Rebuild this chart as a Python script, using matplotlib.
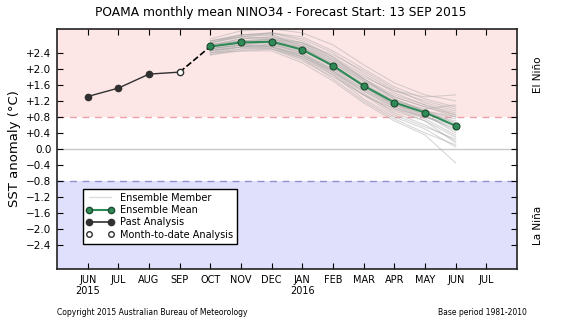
import numpy as np
import matplotlib.pyplot as plt
from matplotlib.lines import Line2D

# months on x axis: index 0 = JUN 2015
month_labels = ['JUN\n2015', 'JUL', 'AUG', 'SEP', 'OCT', 'NOV', 'DEC',
                'JAN\n2016', 'FEB', 'MAR', 'APR', 'MAY', 'JUN', 'JUL']
past_months = [0, 1, 2]
past_values = [1.31, 1.52, 1.87]
mtd_month = 3
mtd_value = 1.92
fc_months = [4, 5, 6, 7, 8, 9, 10, 11, 12]
mean_values = [2.56, 2.66, 2.68, 2.48, 2.08, 1.58, 1.16, 0.91, 0.58]
members = [
    [2.45, 2.55, 2.60, 2.40, 2.00, 1.50, 1.05, 0.80, 0.55],
    [2.60, 2.75, 2.80, 2.65, 2.30, 1.85, 1.40, 1.10, 0.85],
    [2.50, 2.60, 2.55, 2.25, 1.75, 1.20, 0.75, 0.40, 0.10],
    [2.70, 2.85, 2.90, 2.80, 2.45, 2.00, 1.55, 1.25, 1.05],
    [2.40, 2.45, 2.45, 2.15, 1.70, 1.15, 0.70, 0.35, -0.35],
    [2.55, 2.70, 2.75, 2.60, 2.25, 1.80, 1.45, 1.30, 1.35],
    [2.65, 2.80, 2.85, 2.55, 2.10, 1.60, 1.15, 0.85, 0.45],
    [2.35, 2.50, 2.55, 2.35, 1.90, 1.35, 0.85, 0.55, 0.25],
    [2.75, 2.95, 3.00, 2.90, 2.60, 2.10, 1.65, 1.35, 1.20],
    [2.50, 2.65, 2.70, 2.50, 2.15, 1.70, 1.30, 1.05, 0.80],
    [2.45, 2.55, 2.50, 2.20, 1.80, 1.35, 1.00, 0.80, 0.60],
    [2.60, 2.70, 2.65, 2.35, 1.95, 1.45, 1.00, 0.70, 0.30],
    [2.55, 2.65, 2.75, 2.65, 2.35, 1.95, 1.50, 1.15, 0.95],
    [2.40, 2.55, 2.60, 2.45, 2.05, 1.55, 1.10, 0.90, 0.70],
    [2.65, 2.85, 2.90, 2.70, 2.30, 1.75, 1.25, 0.95, 0.65],
    [2.50, 2.60, 2.65, 2.40, 1.95, 1.40, 0.90, 0.60, 0.20],
    [2.70, 2.80, 2.75, 2.55, 2.15, 1.65, 1.20, 1.00, 1.10],
    [2.45, 2.60, 2.70, 2.55, 2.20, 1.75, 1.35, 1.10, 0.90],
    [2.55, 2.65, 2.60, 2.30, 1.85, 1.25, 0.80, 0.50, 0.05],
    [2.60, 2.75, 2.80, 2.60, 2.20, 1.70, 1.25, 0.95, 0.75],
    [2.35, 2.45, 2.50, 2.30, 1.95, 1.50, 1.10, 0.85, 0.40],
    [2.65, 2.80, 2.90, 2.75, 2.40, 1.90, 1.45, 1.20, 1.00],
    [2.50, 2.60, 2.55, 2.30, 1.90, 1.45, 1.05, 0.75, 0.35],
    [2.60, 2.70, 2.70, 2.50, 2.10, 1.60, 1.15, 0.90, 0.65],
    [2.55, 2.70, 2.75, 2.50, 2.05, 1.55, 1.10, 0.80, 0.50],
    [2.45, 2.55, 2.55, 2.35, 2.00, 1.60, 1.20, 0.95, 0.80],
    [2.70, 2.85, 2.85, 2.65, 2.25, 1.75, 1.30, 1.05, 0.85],
    [2.40, 2.50, 2.50, 2.25, 1.85, 1.35, 0.95, 0.70, 0.15],
]
yticks = [-2.4, -2.0, -1.6, -1.2, -0.8, -0.4, 0.0, 0.4, 0.8, 1.2, 1.6, 2.0, 2.4]
ytick_labels = ['\u22122.4', '\u22122.0', '\u22121.6', '\u22121.2', '\u22120.8', '\u22120.4', '0.0',
                '+0.4', '+0.8', '+1.2', '+1.6', '+2.0', '+2.4']

green = '#2e8b57'
dark = '#303030'

fig = plt.figure(figsize=(5.61, 3.21), dpi=100)
ax = fig.add_axes([0.1016, 0.162, 0.82, 0.748])
ax.set_xlim(-1, 14)
ax.set_ylim(-3, 3)

# background bands
ax.axhspan(0.8, 3, color='#fde6e6', zorder=0, lw=0)
ax.axhspan(-3, -0.8, color='#e0e0fc', zorder=0, lw=0)
ax.axhline(0.8, color='#f0a0a8', ls=(0, (5, 4)), lw=1, zorder=1)
ax.axhline(-0.8, color='#9090d0', ls=(0, (5, 4)), lw=1, zorder=1)
ax.axhline(0, color='#c8c8c8', lw=1, zorder=1)

for m in members:
    ax.plot(fc_months, m, color='#a8a8a8', alpha=0.45, lw=0.8, zorder=2)

ax.plot([mtd_month, fc_months[0]], [mtd_value, mean_values[0]], color='black',
        ls='--', lw=1.2, zorder=3)
ax.plot(past_months + [mtd_month], past_values + [mtd_value], color=dark, lw=1, zorder=3)
ax.plot(past_months, past_values, 'o', color=dark, ms=4.5, zorder=4)
ax.plot([mtd_month], [mtd_value], 'o', mfc='white', mec=dark, ms=4.5, zorder=4)
ax.plot(fc_months, mean_values, '-o', color=green, lw=1.5, ms=5, mec='#1e4a30',
        mew=0.8, zorder=5)

ax.set_xticks(range(len(month_labels)))
ax.set_xticklabels(month_labels, fontsize=7)
ax.set_yticks(yticks)
ax.set_yticklabels(ytick_labels, fontsize=7.5)
ax.tick_params(direction='in', top=True, right=True, length=4, width=0.8, pad=4)
for s in ax.spines.values():
    s.set_linewidth(1.2)
    s.set_color('#222222')

ax.set_ylabel('SST anomaly (\u00b0C)', fontsize=9.5)
fig.text(0.5, 0.962, 'POAMA monthly mean NINO34 - Forecast Start: 13 SEP 2015',
         fontsize=8.8, ha='center', va='center')
ax.text(1.045, 0.81, 'El Ni\u00f1o', rotation=90, transform=ax.transAxes,
        ha='center', va='center', fontsize=7.5)
ax.text(1.045, 0.18, 'La Ni\u00f1a', rotation=90, transform=ax.transAxes,
        ha='center', va='center', fontsize=7.5)

handles = [
    Line2D([], [], color='#dddddd', lw=1),
    Line2D([], [], color=green, marker='o', mec='#1e4a30', lw=1.5, ms=4.5),
    Line2D([], [], color=dark, marker='o', lw=1.2, ms=4.5),
    Line2D([], [], color=dark, marker='o', mfc='white', lw=0, ms=4),
]
leg = ax.legend(handles, ['Ensemble Member', 'Ensemble Mean', 'Past Analysis',
                          'Month-to-date Analysis'],
                loc='lower left', bbox_to_anchor=(0.045, 0.085), fontsize=7,
                numpoints=2, fancybox=False, framealpha=1, borderpad=0.4,
                labelspacing=0.25, handlelength=2.8, handletextpad=0.6)
leg.get_frame().set_edgecolor('black')
leg.get_frame().set_linewidth(1)

fig.text(0.1016, 0.02, 'Copyright 2015 Australian Bureau of Meteorology', fontsize=5.5)
fig.text(0.94, 0.02, 'Base period 1981-2010', fontsize=5.5, ha='right')

fig.savefig('out.png', dpi=100)
